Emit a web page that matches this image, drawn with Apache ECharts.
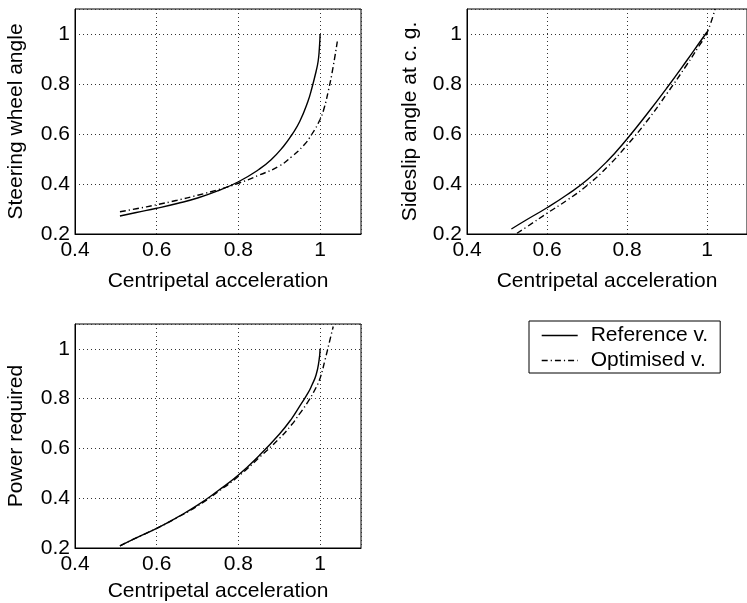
<!DOCTYPE html>
<html>
<head>
<meta charset="utf-8">
<script src="https://cdn.jsdelivr.net/npm/echarts@6/dist/echarts.min.js"></script>
<style>
  html, body { margin: 0; padding: 0; background: #fff; }
  #chart { width: 747px; height: 603px; }
</style>
</head>
<body>
<div id="chart"></div>
<script>
// Centripetal acceleration (normalised) and the normalised responses
const xTicks = [0.4, 0.6, 0.8, 1.0];
const yTicks = [0.2, 0.4, 0.6, 0.8, 1.0];

// Steering wheel angle
const steerRefX = [0.51, 0.55, 0.60, 0.65, 0.70, 0.75, 0.80, 0.85, 0.88, 0.91, 0.93, 0.95, 0.97, 0.98, 0.99, 0.995, 0.998, 1.0];
const steerRefY = [0.272, 0.286, 0.303, 0.322, 0.344, 0.373, 0.409, 0.458, 0.497, 0.55, 0.595, 0.65, 0.73, 0.785, 0.85, 0.89, 0.94, 1.0];
const steerOptX = [0.51, 0.55, 0.60, 0.65, 0.70, 0.75, 0.80, 0.85, 0.90, 0.93, 0.96, 0.98, 1.0, 1.01, 1.02, 1.03, 1.042];
const steerOptY = [0.289, 0.301, 0.317, 0.335, 0.355, 0.377, 0.403, 0.435, 0.472, 0.509, 0.555, 0.60, 0.659, 0.705, 0.772, 0.852, 0.97];

// Sideslip angle at c. g.
const slipRefX = [0.511, 0.55, 0.60, 0.65, 0.70, 0.75, 0.80, 0.85, 0.90, 0.95, 0.98, 1.0];
const slipRefY = [0.22, 0.258, 0.305, 0.357, 0.416, 0.49, 0.58, 0.68, 0.785, 0.895, 0.963, 1.008];
const slipOptX = [0.525, 0.55, 0.60, 0.65, 0.70, 0.75, 0.80, 0.85, 0.90, 0.95, 0.98, 1.0, 1.02];
const slipOptY = [0.203, 0.229, 0.283, 0.335, 0.394, 0.467, 0.555, 0.652, 0.762, 0.878, 0.952, 1.005, 1.10];

// Power required
const powerRefX = [0.51, 0.55, 0.60, 0.65, 0.70, 0.75, 0.80, 0.85, 0.90, 0.93, 0.95, 0.97, 0.98, 0.99, 0.997, 1.0];
const powerRefY = [0.209, 0.241, 0.279, 0.323, 0.372, 0.43, 0.493, 0.57, 0.657, 0.719, 0.77, 0.822, 0.855, 0.895, 0.95, 1.0];
const powerOptX = [0.51, 0.55, 0.60, 0.65, 0.70, 0.75, 0.80, 0.85, 0.90, 0.93, 0.95, 0.97, 0.99, 1.0, 1.012, 1.024, 1.032];
const powerOptY = [0.209, 0.241, 0.279, 0.322, 0.369, 0.426, 0.488, 0.562, 0.64, 0.695, 0.74, 0.787, 0.845, 0.883, 0.956, 1.036, 1.09];

const yNames = ['Steering wheel angle', 'Sideslip angle at c. g.', 'Power required'];
const xName = 'Centripetal acceleration';
const seriesNames = ['Reference v.', 'Optimised v.'];

const FONT = "'Liberation Sans', Arial, Helvetica, sans-serif";
const DASH_DOT = [6, 3, 1.2, 3];

const zip = (xs, ys) => xs.map((x, i) => [x, ys[i]]);

const grids = [
  { left: 75, top: 9, width: 286, height: 225 },
  { left: 467, top: 9, width: 287, height: 225 },
  { left: 75, top: 324, width: 286, height: 225 }
].map(g => Object.assign(g, { show: true, borderColor: '#000', borderWidth: 1, backgroundColor: '#fff', containLabel: false }));

const gridLine = { show: true, lineStyle: { color: '#333', width: 1, type: [1, 3] } };

const xAxes = [0, 1, 2].map(i => ({
  type: 'value', gridIndex: i,
  min: xTicks[0], max: 1.1, interval: 0.2,
  name: xName, nameLocation: 'middle', nameGap: i === 2 ? 33 : 37,
  nameTextStyle: { fontSize: 21, color: '#000', fontFamily: FONT },
  axisLine: { show: true, lineStyle: { color: '#000', width: 1 } },
  axisTick: { show: false },
  axisLabel: { fontSize: 21, color: '#000', fontFamily: FONT, margin: 6, showMaxLabel: false,
    formatter: v => String(+v.toFixed(1)) },
  splitLine: gridLine
}));

const yAxes = [0, 1, 2].map(i => ({
  type: 'value', gridIndex: i,
  min: yTicks[0], max: 1.1, interval: 0.2,
  name: yNames[i], nameLocation: 'middle', nameGap: i === 1 ? 46 : 48,
  nameTextStyle: { fontSize: 21, color: '#000', fontFamily: FONT },
  axisLine: { show: true, lineStyle: { color: '#000', width: 1 } },
  axisTick: { show: false },
  axisLabel: { fontSize: 21, color: '#000', fontFamily: FONT, margin: 5, showMaxLabel: false,
    formatter: v => String(+v.toFixed(1)) },
  splitLine: gridLine
}));

function curve(name, idx, data, dashed) {
  return {
    name, type: 'line', xAxisIndex: idx, yAxisIndex: idx,
    data, symbol: 'none', showSymbol: false,
    smooth: 0.5,
    lineStyle: { color: '#000', width: 1.4, type: dashed ? DASH_DOT : 'solid' },
    itemStyle: { color: '#000' },
    z: 5, animation: false
  };
}

const series = [
  curve(seriesNames[0], 0, zip(steerRefX, steerRefY), false),
  curve(seriesNames[1], 0, zip(steerOptX, steerOptY), true),
  curve(seriesNames[0], 1, zip(slipRefX, slipRefY), false),
  curve(seriesNames[1], 1, zip(slipOptX, slipOptY), true),
  curve(seriesNames[0], 2, zip(powerRefX, powerRefY), false),
  curve(seriesNames[1], 2, zip(powerOptX, powerOptY), true)
];

const chart = echarts.init(document.getElementById('chart'), null, { renderer: 'canvas' });
chart.setOption({
  backgroundColor: '#fff',
  animation: false,
  textStyle: { fontFamily: FONT },
  grid: grids,
  xAxis: xAxes,
  yAxis: yAxes,
  legend: {
    data: seriesNames,
    left: 529, top: 321,
    orient: 'vertical',
    backgroundColor: '#fff',
    borderColor: '#000', borderWidth: 1,
    padding: [4, 12, 2, 12],
    itemWidth: 36, itemHeight: 14, itemGap: 4,
    selectedMode: false,
    itemStyle: { opacity: 0 },
    lineStyle: { width: 1.4 },
    textStyle: { fontSize: 21, color: '#000', fontFamily: FONT, lineHeight: 21, padding: [0, 0, 0, 8] }
  },
  series
});
</script>
</body>
</html>
